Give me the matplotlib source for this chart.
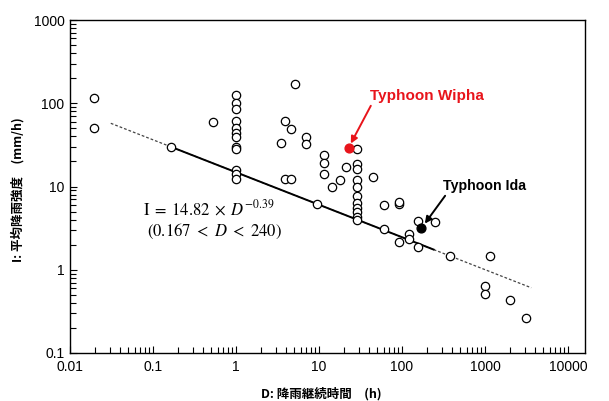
import matplotlib
matplotlib.use("Agg")  # non-interactive backend
import matplotlib.pyplot as plt
import matplotlib.ticker as mticker
import numpy as np

plt.rcParams["font.family"] = ["Liberation Sans", "DejaVu Sans"]
plt.rcParams["mathtext.fontset"] = "stix"

# rainfall events: duration D (h) vs mean intensity I (mm/h)
dur_h = [
    0.0196, 0.0196,
    0.167,
    0.53,
    1, 1, 1, 1, 1, 1, 1, 1, 1, 1, 1, 1,
    3.46,
    3.92, 3.92,
    4.58, 4.58,
    5.16,
    7.0, 7.0,
    9.5,
    11.5, 11.5, 11.5,
    14.4,
    17.9,
    21.4,
    28.9, 28.9, 28.9, 28.9, 28.9, 28.9, 28.9, 28.9, 28.9, 28.9, 28.9,
    45,
    61, 61,
    91, 91, 91,
    121, 121,
    156, 156,
    252,
    382,
    1000, 1000,
    1150,
    2020,
    3100,
]
intensity = [
    115, 50,
    30,
    60,
    126, 101, 85, 61, 50, 44, 39, 30, 28, 16, 14, 12.3,
    33,
    62, 12.2,
    49, 12.2,
    170,
    39, 32,
    6.1,
    24, 19.3, 14.1,
    9.8,
    12,
    17,
    28.2, 18.6, 16.2, 12.0, 9.9, 7.7, 6.3, 5.5, 4.9, 4.3, 4.0,
    13.1,
    6.0, 3.1,
    6.2, 6.6, 2.17,
    2.69, 2.34,
    3.8, 1.88,
    3.75,
    1.45,
    0.64, 0.51,
    1.45,
    0.436,
    0.265,
]

wipha_d, wipha_i = 23, 29.3
ida_d, ida_i = 171, 3.2

coef, expo = 14.82, -0.39
fit_range = (0.167, 240)
ext_range = (0.031, 3600)

x_major = [0.01, 0.1, 1, 10, 100, 1000, 10000]
y_major = [0.1, 1, 10, 100, 1000]

fig = plt.figure(figsize=(6.09, 4.01), dpi=100)
fig.patch.set_facecolor("white")
ax = fig.add_axes([70 / 609, 48 / 401, 515 / 609, 333 / 401])

ax.set_xscale("log")
ax.set_yscale("log")
ax.set_xlim(0.01, 10 ** (4 + 17 / 83.3))
ax.set_ylim(0.1, 1000)

# power-law fit: dotted over the extended range, solid over the fitted range
d_ext = np.logspace(np.log10(ext_range[0]), np.log10(ext_range[1]), 100)
ax.plot(d_ext, coef * d_ext ** expo, color="#444444", lw=0.9,
        linestyle=(0, (2.2, 1.6)), zorder=2)
d_fit = np.logspace(np.log10(fit_range[0]), np.log10(fit_range[1]), 100)
ax.plot(d_fit, coef * d_fit ** expo, color="black", lw=1.4, zorder=3)

ax.scatter(dur_h, intensity, s=36, facecolors="white", edgecolors="black",
           linewidths=0.9, zorder=4)
ax.scatter([wipha_d], [wipha_i], s=40, color="#e8141b", zorder=5)
ax.scatter([ida_d], [ida_i], s=40, color="black", zorder=5)

ax.annotate("Typhoon Wipha", xy=(wipha_d * 1.05, wipha_i * 1.12),
            xytext=(370, 305), textcoords="figure pixels",
            color="#e8141b", fontsize=11, fontweight="bold", va="center",
            arrowprops=dict(arrowstyle="-|>", color="#e8141b", lw=1.4,
                            mutation_scale=10, shrinkA=0, shrinkB=0,
                            relpos=(0.02, 0.0)))
ax.annotate("Typhoon Ida", xy=(ida_d * 1.1, ida_i * 1.12),
            xytext=(443, 215), textcoords="figure pixels",
            color="black", fontsize=10.2, fontweight="bold", va="center",
            arrowprops=dict(arrowstyle="-|>", color="black", lw=1.4,
                            mutation_scale=10, shrinkA=0, shrinkB=0,
                            relpos=(0.05, 0.0)))

fig.text(143, 193, r"$\mathrm{I}\;=\;14.82\;\times\;D^{-0.39}$", fontsize=12,
         va="center", ha="left", transform=None)
fig.text(147, 170, r"$(0.167\ <\ D\ <\ 240)$", fontsize=12,
         va="center", ha="left", transform=None)

# ticks inside, bottom/left only
ax.xaxis.set_major_locator(mticker.FixedLocator(x_major))
ax.yaxis.set_major_locator(mticker.FixedLocator(y_major))
x_minor = [m * b for b in x_major[:-1] for m in range(2, 10)]
y_minor = [m * b for b in y_major[:-1] for m in range(2, 10)]
ax.xaxis.set_minor_locator(mticker.FixedLocator(x_minor))
ax.yaxis.set_minor_locator(mticker.FixedLocator(y_minor))
ax.xaxis.set_major_formatter(mticker.FuncFormatter(lambda v, p: "%g" % v))
ax.yaxis.set_major_formatter(mticker.FuncFormatter(lambda v, p: "%g" % v))
ax.xaxis.set_minor_formatter(mticker.NullFormatter())
ax.yaxis.set_minor_formatter(mticker.NullFormatter())
ax.tick_params(which="both", direction="in", top=False, right=False,
               labelsize=10, colors="black", width=0.8)
ax.tick_params(which="major", length=5)
ax.tick_params(which="minor", length=4)
ax.tick_params(axis="y", which="major", pad=4)
ax.tick_params(axis="x", which="major", pad=5)
for spine in ax.spines.values():
    spine.set_linewidth(1.0)
    spine.set_edgecolor("black")

cjk = ["Noto Sans CJK JP", "DejaVu Sans"]
fig.text(321, 7, "D: 降雨継続時間　(h)", family=cjk, fontsize=9,
         fontweight="bold", ha="center", va="center", transform=None)
fig.text(18, 211, "I: 平均降雨強度　(mm/h)", family=cjk, fontsize=9,
         fontweight="bold", ha="center", va="center", rotation=90,
         transform=None)

fig.savefig("out.png", dpi=100, facecolor="white")
